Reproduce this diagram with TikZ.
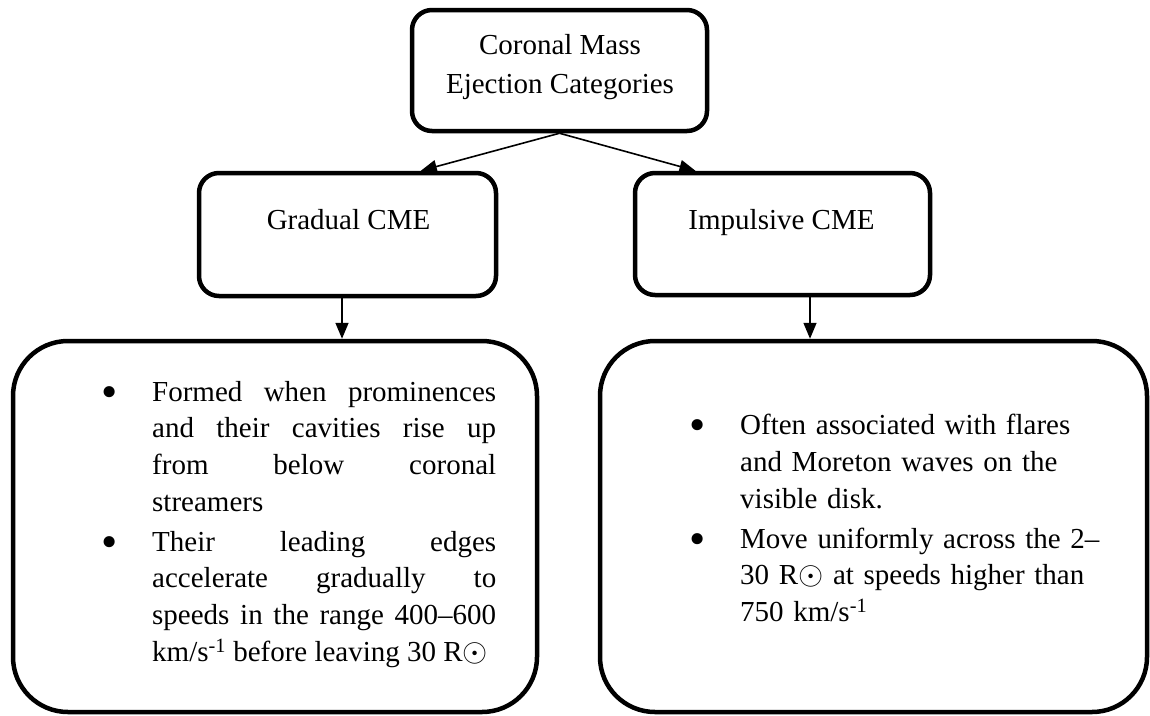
\documentclass[tikz,border=0pt]{standalone}
\usepackage{graphicx}
\usepackage{fontspec}
\setmainfont{Liberation Serif}
\usetikzlibrary{arrows.meta}

\newcommand{\cmedot}{\makebox[10pt][c]{\raisebox{-6pt}{\scalebox{1.6}{\textbullet}}}}
\newcommand{\cmesun}{R\scalebox{1.3}{$\odot$}}
\newenvironment{cmeitems}{%
  \begin{list}{\cmedot}{%
    \setlength{\leftmargin}{48pt}\setlength{\labelwidth}{10pt}%
    \setlength{\labelsep}{38pt}\setlength{\topsep}{0pt}%
    \setlength{\partopsep}{0pt}\setlength{\parsep}{0pt}%
    \setlength{\itemsep}{3pt}}\hyphenpenalty=10000 \tolerance=10000 \hbadness=10000}%
  {\end{list}}

\tikzset{
  cmebox/.style={draw,rectangle,rounded corners=20pt,line width=4.5pt},
  bigbox/.style={draw,rectangle,rounded corners=55pt,line width=4.5pt},
  cmearrow/.style={line width=1.6pt,-{Triangle[length=16pt,width=13pt]}},
}

\begin{document}
\begin{tikzpicture}[x=1pt,y=-1pt,font=\fontsize{29}{36.7}\selectfont]
    \useasboundingbox (0,0) rectangle (1150,715);
    \node[cmebox,minimum width=295pt,minimum height=121pt] (cme) at (559.5,70.5) {};
    \node[align=center] (cmetxt) at (560,67) {Coronal Mass\\[2pt]Ejection Categories};

    \node[cmebox,minimum width=297pt,minimum height=123pt] (grad) at (347.5,234.5) {};
    \node[anchor=base] (gradtxt) at (348.5,229) {Gradual CME};
    \node[cmebox,minimum width=295pt,minimum height=122pt] (imp) at (782.5,234) {};
    \node[anchor=base] (imptxt) at (781.5,229) {Impulsive CME};

    \node[bigbox,minimum width=524pt,minimum height=371pt] (gdet) at (275,526.5) {};
    \node[anchor=west,text width=392pt,align=justify,inner sep=0pt] (gdettxt) at (104,516) {%
        \begin{cmeitems}
            \item Formed when prominences\linebreak and their cavities rise up\linebreak from below coronal\linebreak streamers
            \item Their leading edges\linebreak accelerate gradually to\linebreak speeds in the range 400–600\linebreak km/s\textsuperscript{-1} before leaving 30 \cmesun
        \end{cmeitems}};
    \node[bigbox,minimum width=547pt,minimum height=371pt] (idet) at (873.5,526.5) {};
    \node[anchor=west,text width=420pt,align=left,inner sep=0pt] (idettxt) at (692,510) {%
        \begin{cmeitems}
            \item Often associated with flares\newline and Moreton waves on the\newline visible disk.
            \item Move uniformly across the 2–\newline 30 \cmesun{} at speeds higher than\newline 750 km/s\textsuperscript{-1}
        \end{cmeitems}};

    \draw[cmearrow] (cme.south) -- (grad.41);
    \draw[cmearrow] (cme.south) -- (imp.144);
    \draw[cmearrow] ([xshift=-5.5pt]grad.south) -- ([xshift=-5.5pt]grad.south |- gdet.north);
    \draw[cmearrow] ([xshift=27.5pt]imp.south) -- ([xshift=27.5pt]imp.south |- idet.north);
\end{tikzpicture}
\end{document}
